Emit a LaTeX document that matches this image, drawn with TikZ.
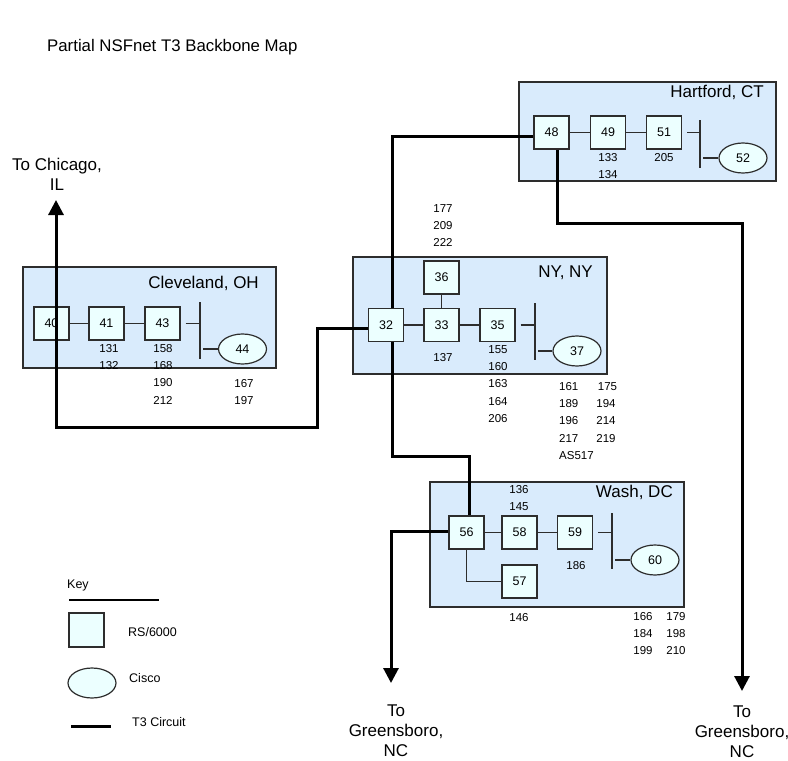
\documentclass[tikz,border=0pt]{standalone}
\usepackage{fontspec}
\setmainfont{Liberation Sans}
\usetikzlibrary{arrows.meta,calc,positioning,shapes.geometric}

\definecolor{citybg}{RGB}{217,235,252}
\definecolor{boxfill}{RGB}{236,255,255}
\definecolor{edgegray}{RGB}{45,45,45}

\tikzset{
  city/.style={draw=edgegray,fill=citybg,line width=1.2pt},
  rsbox/.style={draw=edgegray,fill=boxfill,line width=1.2pt,minimum width=35pt,
    minimum height=33pt,inner sep=0pt,font=\fontsize{12.5}{15}\selectfont},
  cisco/.style={ellipse,draw=edgegray,fill=boxfill,line width=1.2pt,minimum width=48pt,
    minimum height=30pt,inner sep=0pt,font=\fontsize{12.5}{15}\selectfont},
  link/.style={draw=edgegray,line width=1.5pt},
  trunk/.style={draw=black,line width=3pt},
  outarrow/.style={-{Triangle[length=15pt,width=15pt]}},
  numstack/.style={align=center,anchor=north,inner sep=0pt,yshift=4pt,
    font=\fontsize{11.5}{17.3}\selectfont},
  citylbl/.style={anchor=base east,inner sep=0pt,font=\fontsize{17}{20}\selectfont},
  placelbl/.style={align=center,inner sep=0pt,font=\fontsize{17}{20}\selectfont},
  keylbl/.style={anchor=west,inner sep=0pt,font=\fontsize{12.5}{15}\selectfont}
}

\begin{document}
\begin{tikzpicture}[x=1pt,y=-1pt]
  \useasboundingbox (0,0) rectangle (788,761);

  \node[anchor=base west,inner sep=0pt,font=\fontsize{16.8}{20}\selectfont] (title)
    at (47,51) {Partial NSFnet T3 Backbone Map};

  % sites
  \draw[city] (519,82) rectangle (776,181);
  \draw[city] (23,267) rectangle (276,368);
  \draw[city] (353,257) rectangle (607,374);
  \draw[city] (430,482) rectangle (684,607);
  \node[citylbl] (hfdname) at (764,97) {Hartford, CT};
  \node[citylbl] (clename) at (259,288) {Cleveland, OH};
  \node[citylbl] (nycname) at (593,277) {NY, NY};
  \node[citylbl] (wasname) at (673,497) {Wash, DC};

  % Hartford
  \node[rsbox] (n48) at (551.5,132.5) {48};
  \node[rsbox] (n49) at (608,132.5) {49};
  \node[rsbox] (n51) at (664,132.5) {51};
  \node[cisco] (n52) at (743,158) {52};
  \coordinate (hfdBarTop) at (700,120);
  \coordinate (hfdBarBot) at (700,168);
  \draw[link] (n48) -- (n49);
  \draw[link] (n49) -- (n51);
  \draw[link] (hfdBarTop) -- (hfdBarBot);
  \draw[link] ([xshift=5pt]n51.east) -- (n51.east -| hfdBarTop);
  \draw[link] ($(n52.west -| hfdBarTop)+(3,0)$) -- (n52.west);
  \node[numstack] (lb49) at (608,157) {133\\134};
  \node[numstack] (lb51) at (664,157) {205};

  % Cleveland
  \node[rsbox] (n40) at (51.5,323.5) {40};
  \node[rsbox] (n41) at (106.5,323.5) {41};
  \node[rsbox] (n43) at (162.5,323.5) {43};
  \node[cisco] (n44) at (242.5,349) {44};
  \coordinate (cleBarTop) at (200,302);
  \coordinate (cleBarBot) at (200,359);
  \draw[link] (n40) -- (n41);
  \draw[link] (n41) -- (n43);
  \draw[link] (cleBarTop) -- (cleBarBot);
  \draw[link] ([xshift=5pt]n43.east) -- (n43.east -| cleBarTop);
  \draw[link] ($(n44.west -| cleBarTop)+(3,0)$) -- (n44.west);
  \node[numstack] (lb41) at (109,348) {131\\132};
  \node[numstack] (lb43) at (163,348) {158\\168\\190\\212};
  \node[numstack] (lb44) at (244,383) {167\\197};

  % New York
  \node[rsbox] (n32) at (386,325) {32};
  \node[rsbox] (n33) at (441.5,325) {33};
  \node[rsbox] (n35) at (497.5,325) {35};
  \node[rsbox] (n36) at (441.5,277.5) {36};
  \node[cisco] (n37) at (577,351) {37};
  \coordinate (nycBarTop) at (535,303);
  \coordinate (nycBarBot) at (535,360);
  \draw[link] (n32) -- (n33);
  \draw[link] (n33) -- (n35);
  \draw[link] (n36) -- (n33);
  \draw[link] (nycBarTop) -- (nycBarBot);
  \draw[link] ([xshift=5pt]n35.east) -- (n35.east -| nycBarTop);
  \draw[link] ($(n37.west -| nycBarTop)+(3,0)$) -- (n37.west);
  \node[numstack] (lb36) at (443,208) {177\\209\\222};
  \node[numstack] (lb33) at (443,357) {137};
  \node[numstack] (lb35) at (498,349) {155\\160\\163\\164\\206};
  \node[numstack,anchor=north west,align=left] (lb37a) at (559,386) {161\\189\\196\\217\\AS517};
  \node[numstack] (lb37b) at (606,386) {\hspace{3pt}175\\194\\214\\219};

  % Washington
  \node[rsbox] (n56) at (466.5,532.5) {56};
  \node[rsbox] (n58) at (519.5,532.5) {58};
  \node[rsbox] (n59) at (575,532.5) {59};
  \node[rsbox] (n57) at (519.5,581.5) {57};
  \node[cisco] (n60) at (655,560) {60};
  \coordinate (wasBarTop) at (612,513);
  \coordinate (wasBarBot) at (612,569);
  \draw[link] (n56) -- (n58);
  \draw[link] (n58) -- (n59);
  \draw[link] (n56.south) |- (n57.west);
  \draw[link] (wasBarTop) -- (wasBarBot);
  \draw[link] ([xshift=5pt]n59.east) -- (n59.east -| wasBarTop);
  \draw[link] ($(n60.west -| wasBarTop)+(3,0)$) -- (n60.west);
  \node[numstack] (lb58) at (519,489) {136\\145};
  \node[numstack] (lb59) at (576,565) {186};
  \node[numstack] (lb57) at (519,617) {146};
  \node[numstack] (lb60a) at (643,616) {166\\184\\199};
  \node[numstack] (lb60b) at (676,616) {179\\198\\210};

  % T3 circuits
  \coordinate (chicago) at (56,200);
  \coordinate (cleTurn) at (317,427);
  \coordinate (hfdTurn) at (742,223);
  \coordinate (nycTurn) at (469,456);
  \coordinate (grLeft) at (391,683);
  \coordinate (grRight) at (742,691);
  \draw[trunk,outarrow] ([yshift=-3pt]n32.west) -| (cleTurn) -| (chicago);
  \draw[trunk] ([yshift=-3.5pt]n48.west) -| ([xshift=6pt]n32.north);
  \draw[trunk,outarrow] ([xshift=5.5pt]n48.south) |- (hfdTurn) -- (grRight);
  \draw[trunk] ([xshift=6pt]n32.south) |- (nycTurn) -- ([xshift=2.5pt]n56.north);
  \draw[trunk,outarrow] ([yshift=1pt]n56.west) -| (grLeft);

  \node[placelbl] (toChicago) at (57,174) {To Chicago,\\IL};
  \node[placelbl] (toGrLeft) at (396,731) {To\\Greensboro,\\NC};
  \node[placelbl] (toGrRight) at (742,732) {To\\Greensboro,\\NC};

  % key
  \node[keylbl] (keyname) at (67,585) {Key};
  \draw[line width=2pt] (69,600) -- (159,600);
  \node[rsbox,minimum height=34pt] (keyrs) at (86.5,630) {};
  \node[keylbl] (keyrslbl) at (128,632) {RS/6000};
  \node[cisco] (keycisco) at (92,683) {};
  \node[keylbl] (keyciscolbl) at (129,678) {Cisco};
  \draw[trunk] (71,726) -- (111,726);
  \node[keylbl] (keyt3lbl) at (132,722) {T3 Circuit};
\end{tikzpicture}
\end{document}
